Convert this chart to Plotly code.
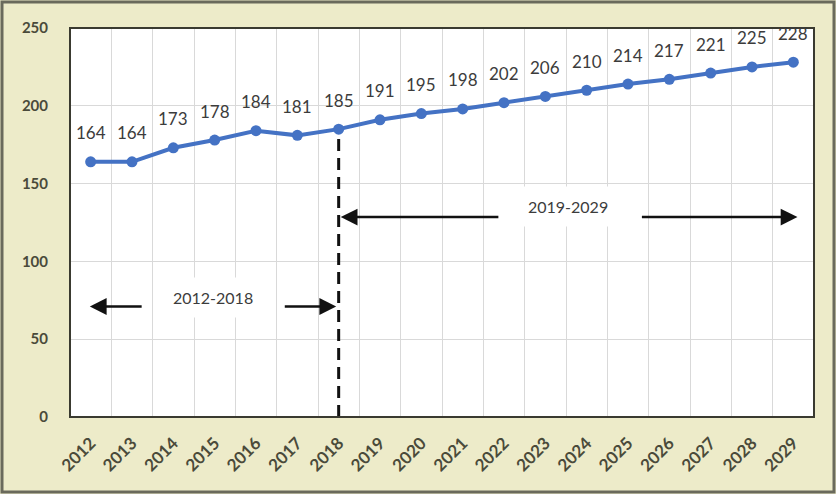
import plotly.graph_objects as go

years = ["2012", "2013", "2014", "2015", "2016", "2017", "2018", "2019", "2020",
         "2021", "2022", "2023", "2024", "2025", "2026", "2027", "2028", "2029"]
values = [164, 164, 173, 178, 184, 181, 185, 191, 195, 198, 202, 206, 210, 214,
          217, 221, 225, 228]
y_ticks = [0, 50, 100, 150, 200, 250]
split_year = "2018"

W, H = 836, 494
L, R, T, B = 70, 22, 28, 77
pw, ph = W - L - R, H - T - B

fig = go.Figure()

si = years.index(split_year)
fig.add_trace(go.Scatter(
    x=[years[si], years[si]], y=[0, values[si]], mode="lines",
    line=dict(color="#111111", width=3, dash="12px,7px"), hoverinfo="skip",
    showlegend=False))

fig.add_trace(go.Scatter(
    x=years, y=values, mode="lines+markers",
    line=dict(color="#4472C4", width=4),
    marker=dict(color="#4472C4", size=11),
    showlegend=False))

ann = []
for i, v in enumerate(values):
    ann.append(dict(x=i, y=v, xref="x", yref="y", text=str(v), showarrow=False,
                    yshift=29,
                    font=dict(family="Lato", size=17, color="#3c3c3c")))

def arrow(head_x, head_y, tail_x):
    return dict(x=head_x, y=head_y, ax=tail_x, ay=head_y, axref="x", ayref="y",
                xref="x", yref="y", text="", showarrow=True, arrowhead=2,
                arrowsize=1.4, arrowwidth=2.4, arrowcolor="#111111", standoff=0)

ann += [
    arrow(-0.02, 71, 1.27), arrow(5.94, 71, 4.66),
    arrow(6.05, 128.5, 9.9), arrow(17.1, 128.5, 13.3),
    dict(x=2.95, y=77, xref="x", yref="y", text="2012-2018", showarrow=False,
         bgcolor="white", borderpad=10,
         font=dict(family="Lato", size=16, color="#3c3c3c")),
    dict(x=11.55, y=135, xref="x", yref="y", text="2019-2029", showarrow=False,
         bgcolor="white", borderpad=10,
         font=dict(family="Lato", size=16, color="#3c3c3c")),
]

shapes = [
    dict(type="rect", xref="paper", yref="paper", x0=0, x1=1, y0=0, y1=1,
         line=dict(color="#3a3a30", width=2), layer="above"),
    dict(type="rect", xref="paper", yref="paper",
         x0=-(L - 2) / pw, x1=1 + (R - 2) / pw, y0=-(B - 2) / ph, y1=1 + (T - 2) / ph,
         line=dict(color="#6a6a5c", width=3), layer="above"),
]

fig.update_layout(
    width=W, height=H,
    margin=dict(l=L, r=R, t=T, b=B),
    paper_bgcolor="#EDEBC9", plot_bgcolor="white",
    annotations=ann, shapes=shapes,
    xaxis=dict(type="category", categoryorder="array", categoryarray=years,
               range=[-0.5, len(years) - 0.5],
               tickson="boundaries", showgrid=True,
               gridcolor="#D9D9D9", gridwidth=1, tickangle=-45,
               ticks="", ticklabelstandoff=12,
               tickfont=dict(family="Lato", size=17, color="#4a4a3a", weight="bold"),
               showline=False, zeroline=False),
    yaxis=dict(range=[0, 250], tickvals=y_ticks, showgrid=True,
               gridcolor="#D9D9D9", gridwidth=1, ticks="outside", ticklen=18,
               tickcolor="rgba(0,0,0,0)",
               tickfont=dict(family="Lato", size=15, color="#4a4a3a", weight="bold"),
               zeroline=False, showline=False),
)

fig.write_html("out.html")
